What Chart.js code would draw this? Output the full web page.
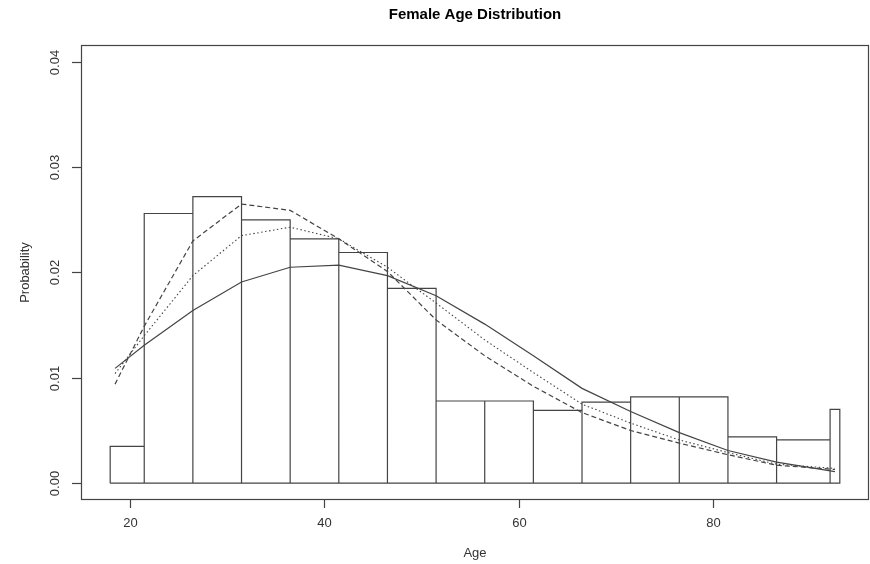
<!DOCTYPE html>
<html>
<head>
<meta charset="utf-8">
<script src="https://cdn.jsdelivr.net/npm/chart.js@4.4.1/dist/chart.umd.min.js"></script>
<style>
  body { margin: 0; background: #fff; }
  #wrap { width: 870px; height: 564px; }
</style>
</head>
<body>
<div id="wrap"><canvas id="ageChart" width="870" height="564"></canvas></div>
<script>
// histogram bins (age) and density heights
const binEdges = [18, 21.5, 26.5, 31.5, 36.5, 41.5, 46.5, 51.5, 56.5, 61.5, 66.5, 71.5, 76.5, 81.5, 86.5, 92, 93];
const binDensity = [0.0035, 0.0256, 0.0272, 0.0250, 0.0232, 0.0219, 0.0185, 0.0078, 0.0078, 0.0069, 0.0077, 0.0082, 0.0082, 0.0044, 0.0041, 0.0070];

// fitted density curves
const curveAges = [18.5, 21.5, 26.5, 31.5, 36.5, 41.5, 46.5, 51.5, 56.5, 61.5, 66.5, 71.5, 76.5, 81.5, 86.5, 92.5];
const curveSolid = [0.0109, 0.0131, 0.0164, 0.0191, 0.0205, 0.0207, 0.0197, 0.0178, 0.0151, 0.0121, 0.0090, 0.0068, 0.0048, 0.0031, 0.0020, 0.0011];
const curveDotted = [0.0104, 0.0140, 0.0197, 0.0235, 0.0243, 0.0232, 0.0205, 0.0171, 0.0136, 0.0105, 0.0075, 0.0057, 0.0041, 0.0029, 0.0018, 0.0014];
const curveDashed = [0.0094, 0.0149, 0.0230, 0.0265, 0.0259, 0.0232, 0.0201, 0.0155, 0.0121, 0.0092, 0.0067, 0.0050, 0.0038, 0.0027, 0.0017, 0.0013];

const xTicks = [20, 40, 60, 80];
const yTicks = [0, 0.01, 0.02, 0.03, 0.04];
const yTickLabels = ['0.00', '0.01', '0.02', '0.03', '0.04'];

const inkColor = '#444';
const textColor = '#333';
const fontFamily = '"Liberation Sans", Arial, sans-serif';

// outline of the histogram, one rectangle after another, then back along the base
function histOutline() {
    const pts = [];
    for (let i = 0; i < binDensity.length; i++) {
        pts.push({ x: binEdges[i], y: 0 });
        pts.push({ x: binEdges[i], y: binDensity[i] });
        pts.push({ x: binEdges[i + 1], y: binDensity[i] });
        pts.push({ x: binEdges[i + 1], y: 0 });
    }
    pts.push({ x: binEdges[0], y: 0 });
    return pts;
}

function curve(values) {
    return curveAges.map((a, i) => ({ x: a, y: values[i] }));
}

// R-style frame, ticks and labels
const rAxes = {
    id: 'rAxes',
    afterDraw(chart) {
        const ctx = chart.ctx;
        const area = chart.chartArea;
        const xs = chart.scales.x;
        const ys = chart.scales.y;
        ctx.save();
        ctx.strokeStyle = inkColor;
        ctx.lineWidth = 1.2;
        ctx.strokeRect(area.left + 0.5, area.top + 0.5, area.right - area.left - 1, area.bottom - area.top - 1);

        ctx.fillStyle = textColor;
        ctx.font = '13px ' + fontFamily;
        ctx.textAlign = 'center';
        ctx.textBaseline = 'middle';
        xTicks.forEach(v => {
            const px = Math.round(xs.getPixelForValue(v)) + 0.5;
            ctx.beginPath();
            ctx.moveTo(px, area.bottom);
            ctx.lineTo(px, area.bottom + 8);
            ctx.stroke();
            ctx.fillText(String(v), px, area.bottom + 23);
        });
        yTicks.forEach((v, i) => {
            const py = Math.round(ys.getPixelForValue(v)) + 0.5;
            ctx.beginPath();
            ctx.moveTo(area.left, py);
            ctx.lineTo(area.left - 9, py);
            ctx.stroke();
            ctx.save();
            ctx.translate(area.left - 26, py);
            ctx.rotate(-Math.PI / 2);
            ctx.fillText(yTickLabels[i], 0, 0);
            ctx.restore();
        });

        ctx.fillText('Age', (area.left + area.right) / 2, 553);
        ctx.save();
        ctx.translate(25, (area.top + area.bottom) / 2);
        ctx.rotate(-Math.PI / 2);
        ctx.fillText('Probability', 0, 0);
        ctx.restore();

        ctx.fillStyle = '#000';
        ctx.font = 'bold 15px ' + fontFamily;
        ctx.fillText('Female Age Distribution', (area.left + area.right) / 2, 15);
        ctx.restore();
    }
};

document.addEventListener('DOMContentLoaded', function() {
    const ctx = document.getElementById('ageChart');
    new Chart(ctx, {
        type: 'scatter',
        data: {
            datasets: [
                {
                    label: 'Histogram',
                    data: histOutline(),
                    showLine: true,
                    borderColor: inkColor,
                    borderWidth: 1.2,
                    pointRadius: 0,
                    tension: 0
                },
                {
                    label: 'Solid',
                    data: curve(curveSolid),
                    showLine: true,
                    borderColor: inkColor,
                    borderWidth: 1.2,
                    pointRadius: 0
                },
                {
                    label: 'Dotted',
                    data: curve(curveDotted),
                    showLine: true,
                    borderColor: inkColor,
                    borderWidth: 1.1,
                    borderDash: [1.5, 2.5],
                    pointRadius: 0
                },
                {
                    label: 'Dashed',
                    data: curve(curveDashed),
                    showLine: true,
                    borderColor: inkColor,
                    borderWidth: 1.2,
                    borderDash: [5, 3],
                    pointRadius: 0
                }
            ]
        },
        options: {
            responsive: false,
            animation: false,
            layout: { padding: { left: 81, right: 1, top: 45, bottom: 64 } },
            scales: {
                x: { type: 'linear', min: 15, max: 96, display: false },
                y: { type: 'linear', min: -0.0016, max: 0.0416, display: false }
            },
            plugins: {
                legend: { display: false },
                tooltip: { enabled: false }
            }
        },
        plugins: [rAxes]
    });
});
</script>
</body>
</html>
